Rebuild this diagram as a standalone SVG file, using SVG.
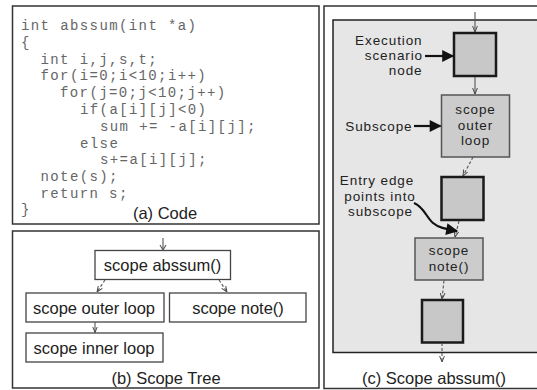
<svg xmlns="http://www.w3.org/2000/svg" width="537" height="390" viewBox="0 0 537 390">
<style>
.panel{fill:#fff;stroke:#333;stroke-width:1.5}
.region{fill:#e6e6e6;stroke:#222;stroke-width:1.5}
.exec{fill:#c8c8c8;stroke:#1a1a1a;stroke-width:2.5}
.scope{fill:#cccccc;stroke:#555;stroke-width:1.5}
.tree{fill:#fff;stroke:#444;stroke-width:1.3}
.code{font-family:"Liberation Mono","Courier New",monospace;font-size:14px;letter-spacing:1.4px;fill:#666}
.lbl{font-family:"Liberation Sans",Arial,sans-serif;font-size:13.5px;letter-spacing:0.9px;fill:#222}
.tl{font-family:"Liberation Sans",Arial,sans-serif;font-size:16.5px;fill:#222}
.cap{font-family:"Liberation Sans",Arial,sans-serif;font-size:16.5px;fill:#222;text-anchor:middle}
.mid{text-anchor:middle}
.end{text-anchor:end}
.thin{fill:none;stroke:#555;stroke-width:1.1}
.dash{stroke-dasharray:3 2}
.bold{fill:none;stroke:#111;stroke-width:2.2}
</style>
<defs>
<marker id="ah" viewBox="0 0 10 10" refX="10" refY="5" markerWidth="6" markerHeight="6" markerUnits="userSpaceOnUse" orient="auto"><path d="M0,1 L10,5 L0,9" fill="none" stroke="#444" stroke-width="1.6"/></marker>
<marker id="bh" viewBox="0 0 10 10" refX="9" refY="5" markerWidth="15" markerHeight="12" markerUnits="userSpaceOnUse" orient="auto"><path d="M0,0 L10,5 L0,10 z" fill="#111"/></marker>
</defs>

<!-- Panel (a) Code -->
<g id="panel-a">
<rect class="panel" x="12.5" y="6" width="306.5" height="218"/>
<text class="code" x="21" y="30">int abssum(int *a)</text>
<text class="code" x="21" y="46.8">{</text>
<text class="code" x="40.5" y="63.6">int i,j,s,t;</text>
<text class="code" x="40.5" y="80.4">for(i=0;i&lt;10;i++)</text>
<text class="code" x="60" y="97.2">for(j=0;j&lt;10;j++)</text>
<text class="code" x="80" y="114">if(a[i][j]&lt;0)</text>
<text class="code" x="100" y="130.8">sum += -a[i][j];</text>
<text class="code" x="80" y="147.6">else</text>
<text class="code" x="100" y="164.4">s+=a[i][j];</text>
<text class="code" x="40.5" y="181.2">note(s);</text>
<text class="code" x="40.5" y="198">return s;</text>
<text class="code" x="21" y="213.5">}</text>
<text class="cap" x="165" y="219">(a) Code</text>
</g>

<!-- Panel (b) Scope Tree -->
<g id="panel-b">
<rect class="panel" x="12.5" y="231" width="306.5" height="157"/>
<text class="cap" x="166" y="384">(b) Scope Tree</text>
</g>
<g id="t-abssum">
<rect class="tree" x="95" y="250.5" width="135.5" height="29"/>
<text class="tl mid" x="162.5" y="271">scope abssum()</text>
</g>
<g id="t-outer">
<rect class="tree" x="26" y="293" width="138" height="29"/>
<text class="tl mid" x="94" y="313.5">scope outer loop</text>
</g>
<g id="t-note">
<rect class="tree" x="169.5" y="293" width="136.5" height="29"/>
<text class="tl mid" x="238" y="313.5">scope note()</text>
</g>
<g id="t-inner">
<rect class="tree" x="26" y="333" width="137" height="29"/>
<text class="tl mid" x="94" y="353.5">scope inner loop</text>
</g>

<!-- Panel (c) Scope abssum() -->
<g id="panel-c">
<rect class="panel" x="324" y="6" width="220" height="382.5"/>
<rect class="region" x="333" y="20" width="215" height="332.5"/>
<text class="cap" x="434" y="384">(c) Scope abssum()</text>
</g>
<g id="n1">
<rect class="exec" x="454" y="33" width="42" height="43"/>
</g>
<g id="n2">
<rect class="scope" x="441.5" y="95" width="68" height="62"/>
<text class="lbl mid" x="475.5" y="113.5">scope</text>
<text class="lbl mid" x="475.5" y="129.5">outer</text>
<text class="lbl mid" x="475.5" y="145">loop</text>
</g>
<g id="n3">
<rect class="exec" x="441.5" y="177" width="42" height="43"/>
</g>
<g id="n4">
<rect class="scope" x="415" y="238" width="68" height="42"/>
<text class="lbl mid" x="449" y="255">scope</text>
<text class="lbl mid" x="449" y="271">note()</text>
</g>
<g id="n5">
<rect class="exec" x="422" y="300" width="41" height="42.5"/>
</g>
<g id="annotations">
<text class="lbl end" x="422.5" y="44.5">Execution</text>
<text class="lbl end" x="423" y="59.6">scenario</text>
<text class="lbl end" x="422.5" y="74.7">node</text>
<text class="lbl end" x="412.5" y="131">Subscope</text>
<text class="lbl mid" x="377" y="185">Entry edge</text>
<text class="lbl mid" x="380" y="200.5">points into</text>
<text class="lbl mid" x="380.5" y="216">subscope</text>
</g>

<g id="connectors">
<!-- tree -->
<line class="thin" x1="163" y1="238" x2="163" y2="250"/>
<polyline class="thin" points="160,245 163,250 166,245"/>
<line class="thin dash" x1="105" y1="280" x2="97" y2="292" marker-end="url(#ah)"/>
<line class="thin dash" x1="219" y1="280" x2="227" y2="292" marker-end="url(#ah)"/>
<line class="thin" x1="95" y1="322" x2="95" y2="332.5" marker-end="url(#ah)"/>
<!-- scope abssum -->
<line class="thin" x1="475" y1="12" x2="475" y2="32" marker-end="url(#ah)"/>
<line class="thin" x1="475" y1="77" x2="475" y2="94" marker-end="url(#ah)"/>
<line class="thin dash" x1="473" y1="157" x2="463" y2="176" marker-end="url(#ah)"/>
<line class="thin dash" x1="459" y1="221" x2="455" y2="237" marker-end="url(#ah)"/>
<line class="thin dash" x1="444" y1="280.5" x2="442" y2="299" marker-end="url(#ah)"/>
<line class="thin dash" x1="442" y1="343" x2="442" y2="362" marker-end="url(#ah)"/>
<!-- annotation arrows -->
<line class="bold" x1="425" y1="56" x2="453" y2="56" marker-end="url(#bh)"/>
<line class="bold" x1="414" y1="126" x2="440.5" y2="126" marker-end="url(#bh)"/>
<path class="bold" d="M414,203 C424,207 426,217 433,223 C439,228 446,229 457,231" marker-end="url(#bh)"/>
</g>
</svg>
